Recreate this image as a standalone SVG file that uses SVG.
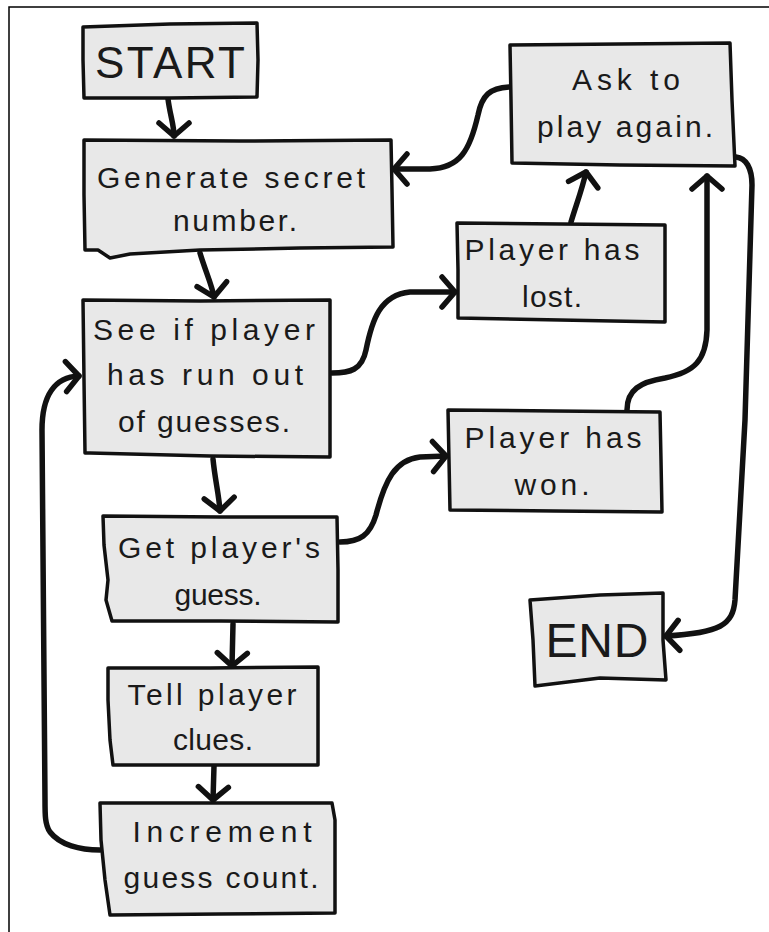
<svg xmlns="http://www.w3.org/2000/svg" width="769" height="932" viewBox="0 0 769 932">
<style>
.box{fill:#e8e8e8;stroke:#111;stroke-width:3.5;stroke-linejoin:round;stroke-linecap:round}
.t{font-family:"Liberation Sans",Arial,sans-serif;font-size:30px;fill:#1a1a1a;text-anchor:middle}
.big{font-size:44px}
.c{fill:none;stroke:#111;stroke-width:5.5;stroke-linecap:round;stroke-linejoin:round;marker-end:url(#ah)}
</style>
<defs>
<marker id="ah" viewBox="-20 -20 25 40" refX="0" refY="0" markerWidth="25" markerHeight="40" markerUnits="userSpaceOnUse" orient="auto" overflow="visible">
<path d="M -13 -15 L 0 0 L -13 15" fill="none" stroke="#111" stroke-width="5.5" stroke-linecap="round" stroke-linejoin="round"/>
</marker>
</defs>
<rect width="769" height="932" fill="#fff"/>
<path d="M 9 932 L 9 7 L 769 7" fill="none" stroke="#000" stroke-width="1.5"/>

<g id="connectors">
<path class="c" d="M 168 99 C 170 115, 174 125, 174 136"/>
<path class="c" d="M 200 253 C 205 270, 212 285, 214 297"/>
<path class="c" d="M 213 459 C 215 480, 219 495, 220 511"/>
<path class="c" d="M 233 624 L 232 666"/>
<path class="c" d="M 214 766 L 213 800"/>
<path class="c" d="M 100 850 C 80 850, 60 845, 50 832 C 45 825, 45 815, 45 800 L 42 430 C 42 395, 55 377, 79 376"/>
<path class="c" d="M 332 373 C 350 373, 362 370, 366 350 C 372 320, 380 295, 410 292 L 455 292"/>
<path class="c" d="M 340 542 C 360 542, 370 535, 376 515 C 385 480, 395 460, 420 457 L 446 456"/>
<path class="c" d="M 571 222 C 576 205, 582 190, 586 172"/>
<path class="c" d="M 627 410 C 627 390, 640 382, 665 378 C 695 372, 706 360, 707 330 L 707 176"/>
<path class="c" d="M 736 157 C 746 158, 752 168, 752 185 L 745 420 L 735 600 C 733 625, 720 633, 666 636"/>
<path class="c" d="M 509 87 C 490 88, 482 95, 478 115 C 470 150, 460 168, 430 169 L 394 169"/>
</g>

<g id="start">
<path class="box" d="M 83 27 L 170 24 L 257 23 L 258 60 L 257 97 L 170 98 L 84 98 L 83 60 Z"/>
<text class="t big" x="170" y="78" textLength="150" lengthAdjust="spacing">START</text>
</g>

<g id="generate">
<path class="box" d="M 84 140 L 240 141 L 391 140 L 392 190 L 393 247 L 300 248 L 200 250 L 130 254 L 110 258 L 98 250 L 85 250 L 84 195 Z"/>
<text class="t" x="231" y="188" textLength="268" lengthAdjust="spacing">Generate secret</text>
<text class="t" x="235" y="231" textLength="124" lengthAdjust="spacing">number.</text>
</g>

<g id="seeif">
<path class="box" d="M 83 300 L 200 301 L 330 300 L 330 380 L 330 457 L 210 456 L 90 453 L 85 453 L 84 380 Z"/>
<text class="t" x="204" y="340" textLength="222" lengthAdjust="spacing">See if player</text>
<text class="t" x="205" y="385" textLength="196" lengthAdjust="spacing">has run out</text>
<text class="t" x="204" y="432" textLength="172" lengthAdjust="spacing">of guesses.</text>
</g>

<g id="getguess">
<path class="box" d="M 103 516 L 220 517 L 337 517 L 338 570 L 338 622 L 220 621 L 112 621 L 106 600 L 108 580 L 104 545 Z"/>
<text class="t" x="219" y="558" textLength="202" lengthAdjust="spacing">Get player's</text>
<text class="t" x="218" y="605" textLength="87" lengthAdjust="spacing">guess.</text>
</g>

<g id="tellclues">
<path class="box" d="M 108 668 L 210 668 L 318 667 L 318 715 L 318 765 L 210 765 L 113 765 L 110 740 L 108 700 Z"/>
<text class="t" x="212" y="705" textLength="169" lengthAdjust="spacing">Tell player</text>
<text class="t" x="213" y="750" textLength="80" lengthAdjust="spacing">clues.</text>
</g>

<g id="increment">
<path class="box" d="M 100 803 L 220 803 L 332 803 L 335 820 L 335 913 L 220 914 L 110 915 L 105 880 L 101 840 Z"/>
<text class="t" x="222" y="842" textLength="179" lengthAdjust="spacing">Increment</text>
<text class="t" x="221" y="888" textLength="195" lengthAdjust="spacing">guess count.</text>
</g>

<g id="askagain">
<path class="box" d="M 510 45 L 620 44 L 730 43 L 732 100 L 735 166 L 620 165 L 512 163 L 511 100 Z"/>
<text class="t" x="626" y="90" textLength="108" lengthAdjust="spacing">Ask to</text>
<text class="t" x="625" y="137" textLength="176" lengthAdjust="spacing">play again.</text>
</g>

<g id="lost">
<path class="box" d="M 457 223 L 560 224 L 665 225 L 665 270 L 665 322 L 560 320 L 458 318 L 458 270 Z"/>
<text class="t" x="552" y="260" textLength="175" lengthAdjust="spacing">Player has</text>
<text class="t" x="552" y="307" textLength="60" lengthAdjust="spacing">lost.</text>
</g>

<g id="won">
<path class="box" d="M 448 410 L 555 411 L 660 412 L 661 460 L 662 512 L 555 511 L 450 510 L 449 460 Z"/>
<text class="t" x="553" y="448" textLength="177" lengthAdjust="spacing">Player has</text>
<text class="t" x="552" y="495" textLength="75" lengthAdjust="spacing">won.</text>
</g>

<g id="end">
<path class="box" d="M 530 600 L 600 595 L 663 593 L 663 640 L 666 680 L 600 678 L 535 686 L 533 640 Z"/>
<text class="t" x="597" y="657" style="font-size:48px" textLength="103" lengthAdjust="spacing">END</text>
</g>
</svg>
